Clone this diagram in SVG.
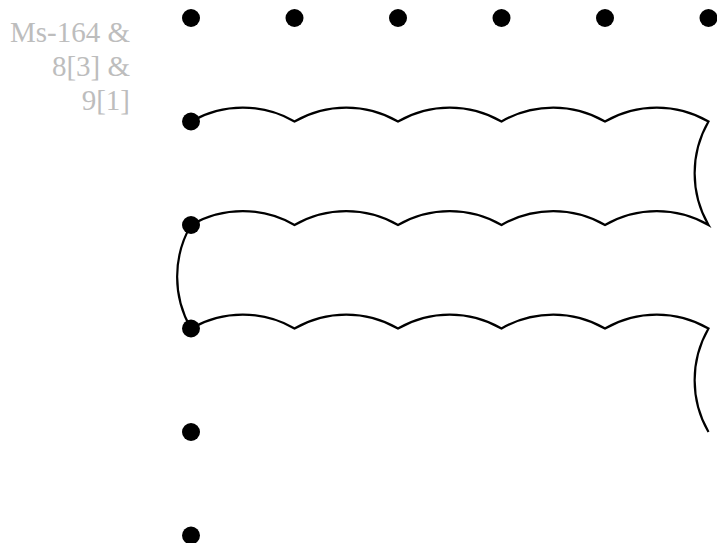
<svg xmlns="http://www.w3.org/2000/svg" width="717" height="543" viewBox="0 0 717 543">
<style>
.dot{fill:#000}
.edge{fill:none;stroke:#000;stroke-width:2.2;stroke-linejoin:miter}
.lbl{font-family:"Liberation Serif","DejaVu Serif",serif;font-size:29px;fill:#bdbdbd;text-anchor:end}
</style>
<rect width="717" height="543" fill="#fff"/>
<g id="label">
<text class="lbl" x="130" y="42">Ms-164 &amp;</text>
<text class="lbl" x="130" y="76">8[3] &amp;</text>
<text class="lbl" x="130" y="110">9[1]</text>
</g>
<g id="connectors">
<path class="edge" d="M191,121.5 A103.5,103.5 0 0 1 294.5,121.5 A103.5,103.5 0 0 1 398,121.5 A103.5,103.5 0 0 1 501.5,121.5 A103.5,103.5 0 0 1 605,121.5 A103.5,103.5 0 0 1 708.5,121.5 A103.5,103.5 0 0 0 708.5,225 A103.5,103.5 0 0 0 605,225 A103.5,103.5 0 0 0 501.5,225 A103.5,103.5 0 0 0 398,225 A103.5,103.5 0 0 0 294.5,225 A103.5,103.5 0 0 0 191,225 A103.5,103.5 0 0 0 191,328.5 A103.5,103.5 0 0 1 294.5,328.5 A103.5,103.5 0 0 1 398,328.5 A103.5,103.5 0 0 1 501.5,328.5 A103.5,103.5 0 0 1 605,328.5 A103.5,103.5 0 0 1 708.5,328.5 A103.5,103.5 0 0 0 708.5,432"/>
</g>
<g id="n0_0"><circle class="dot" cx="191" cy="18" r="9"/></g>
<g id="n1_0"><circle class="dot" cx="294.5" cy="18" r="9"/></g>
<g id="n2_0"><circle class="dot" cx="398" cy="18" r="9"/></g>
<g id="n3_0"><circle class="dot" cx="501.5" cy="18" r="9"/></g>
<g id="n4_0"><circle class="dot" cx="605" cy="18" r="9"/></g>
<g id="n5_0"><circle class="dot" cx="708.5" cy="18" r="9"/></g>
<g id="n0_1"><circle class="dot" cx="191" cy="121.5" r="9"/></g>
<g id="n0_2"><circle class="dot" cx="191" cy="225" r="9"/></g>
<g id="n0_3"><circle class="dot" cx="191" cy="328.5" r="9"/></g>
<g id="n0_4"><circle class="dot" cx="191" cy="432" r="9"/></g>
<g id="n0_5"><circle class="dot" cx="191" cy="535.5" r="9"/></g>
</svg>
